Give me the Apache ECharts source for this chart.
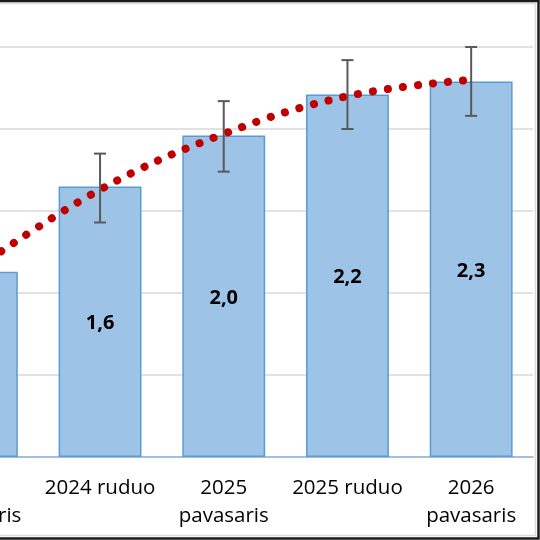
<!DOCTYPE html>
<html>
<head>
<meta charset="utf-8">
<script src="https://cdn.jsdelivr.net/npm/echarts@6/dist/echarts.min.js"></script>
<style>
  html, body { margin: 0; padding: 0; background: #fff; overflow: hidden; }
  body { width: 540px; height: 540px; position: relative; }
  /* the chart is cropped on the left, so the canvas starts off-screen */
  #chart { position: absolute; left: -86px; top: 0; width: 626px; height: 540px; }
</style>
</head>
<body>
<div id="chart"></div>
<script>
  // kategorijos (pirmoji iš dalies už kadro)
  var categories = ["2024\npavasaris", "2024 ruduo", "2025\npavasaris", "2025 ruduo", "2026\npavasaris"];
  // stulpelių reikšmės
  var barValues = [1.13, 1.65, 1.96, 2.21, 2.29];
  // paklaidų ribos
  var errLow = [0.92, 1.43, 1.74, 2.0, 2.08];
  var errHigh = [1.34, 1.85, 2.17, 2.42, 2.5];
  // tendencijos linija (taškinė)
  var trendValues = [1.15, 1.63, 1.97, 2.2, 2.3];
  // y ašies padalos
  var yTicks = [0, 0.5, 1.0, 1.5, 2.0, 2.5];

  var off = 86; // how far the canvas is shifted left
  var myChart = echarts.init(document.getElementById("chart"));

  var errData = categories.map(function (c, i) {
    return [i, errLow[i], errHigh[i]];
  });

  var option = {
    animation: false,
    grid: {
      left: 0.5,
      right: 7,
      top: 47,
      bottom: 83
    },
    xAxis: {
      type: "category",
      data: categories,
      axisTick: { show: false },
      axisLine: {
        lineStyle: { color: "#8fb4de", width: 1.5 }
      },
      axisLabel: {
        interval: 0,
        color: "#000",
        fontFamily: "Open Sans",
        fontSize: 20.5,
        lineHeight: 28,
        margin: 17
      }
    },
    yAxis: {
      type: "value",
      min: yTicks[0],
      max: yTicks[yTicks.length - 1],
      interval: 0.5,
      axisLabel: { show: false },
      axisLine: { show: false },
      axisTick: { show: false },
      splitLine: {
        lineStyle: { color: "#d9d9d9", width: 1.5 }
      }
    },
    series: [
      {
        type: "bar",
        data: barValues,
        barCategoryGap: "33%",
        itemStyle: {
          color: "#9dc3e6",
          borderColor: "#5b9bd5",
          borderWidth: 1.5
        },
        label: {
          show: true,
          position: "inside",
          offset: [0, 2],
          color: "#000",
          fontFamily: "Open Sans",
          fontWeight: "bold",
          fontSize: 20,
          formatter: function (p) {
            return p.value.toFixed(1).replace(".", ",");
          }
        },
        z: 2
      },
      {
        type: "line",
        data: trendValues,
        smooth: 0.4,
        symbol: "none",
        lineStyle: {
          color: "#c00000",
          width: 8,
          type: [0.1, 15],
          cap: "round"
        },
        z: 3
      },
      {
        type: "custom",
        data: errData,
        renderItem: function (params, api) {
          var x = api.value(0);
          var top = api.coord([x, api.value(2)]);
          var bot = api.coord([x, api.value(1)]);
          var w = 6;
          var st = { stroke: "#595959", lineWidth: 2 };
          return {
            type: "group",
            children: [
              { type: "line", shape: { x1: top[0], y1: top[1], x2: bot[0], y2: bot[1] }, style: st },
              { type: "line", shape: { x1: top[0] - w, y1: top[1], x2: top[0] + w, y2: top[1] }, style: st },
              { type: "line", shape: { x1: bot[0] - w, y1: bot[1], x2: bot[0] + w, y2: bot[1] }, style: st }
            ]
          };
        },
        z: 4
      }
    ],
    graphic: [
      {
        type: "rect",
        shape: { x: off - 10, y: 3.5, width: 545.5, height: 532 },
        style: { fill: null, stroke: "#d9d9d9", lineWidth: 1.5 },
        z: 10
      },
      {
        type: "rect",
        shape: { x: off - 10, y: 1, width: 548.5, height: 537.5 },
        style: { fill: null, stroke: "#1a1a1a", lineWidth: 2.5 },
        z: 11
      }
    ]
  };

  myChart.clear();
  myChart.setOption(option);
</script>
</body>
</html>
